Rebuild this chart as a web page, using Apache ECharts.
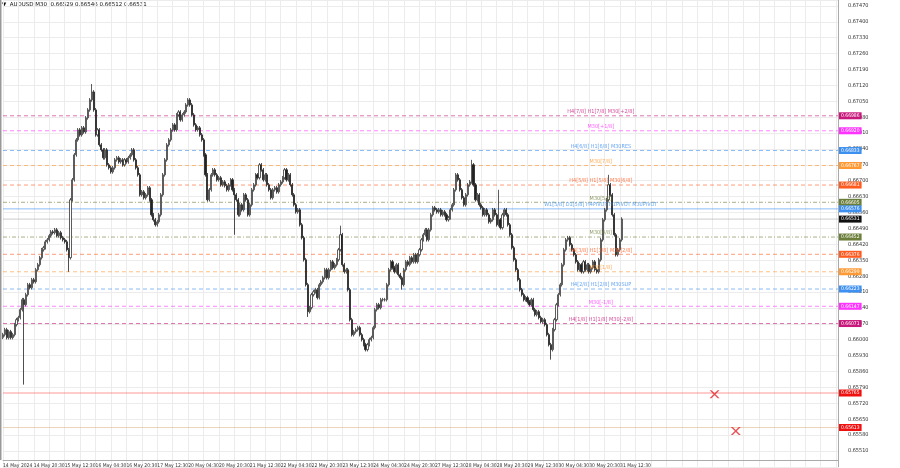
<!DOCTYPE html>
<html><head><meta charset="utf-8">
<script src="https://cdn.jsdelivr.net/npm/echarts@6/dist/echarts.min.js"></script>
<style>html,body{margin:0;padding:0;background:#fff}#c{width:900px;height:468px}</style>
</head><body><div id="c"></div>
<script>
// closes in points (1 point = 0.00001)
const closes = [66022,66044,66009,66035,66009,66022,66066,66088,66097,66132,66176,66154,66198,66242,66229,66264,66255,66308,66330,66361,
66396,66405,66431,66440,66458,66475,66471,66484,66458,66471,66449,66440,66431,66396,66361,66616,66704,66814,66880,66924,
66902,66933,66915,66977,67012,67056,67091,67012,66902,66924,66858,66836,66801,66836,66770,66757,66739,66757,66792,66801,
66783,66792,66770,66792,66783,66801,66814,66836,66792,66757,66726,66638,66651,66625,66638,66669,66616,66550,66528,66506,
66519,66550,66638,66726,66792,66858,66880,66924,66946,66924,66990,67003,66968,66990,67003,67034,67056,67034,66990,66946,
66924,66933,66902,66880,66814,66726,66616,66660,66726,66748,66726,66704,66713,66682,66695,66678,66660,66682,66704,66660,
66638,66616,66550,66594,66572,66638,66616,66550,66594,66660,66682,66726,66713,66770,66748,66704,66726,66682,66660,66625,
66660,66669,66651,66682,66695,66713,66748,66704,66726,66682,66638,66594,66563,66572,66506,66449,66352,66242,66123,66141,
66198,66211,66220,66185,66242,66255,66273,66308,66273,66308,66343,66317,66330,66352,66396,66462,66330,66299,66308,66220,
66088,66022,66035,66044,66053,66022,66000,65978,65956,65978,66000,66009,66053,66132,66154,66141,66176,66176,66176,66242,
66308,66343,66317,66299,66330,66286,66273,66242,66308,66343,66330,66361,66343,66374,66343,66374,66396,66440,66462,66484,
66440,66484,66550,66581,66572,66563,66572,66550,66563,66550,66528,66537,66572,66594,66660,66726,66704,66660,66625,66594,
66638,66682,66695,66770,66682,66616,66638,66594,66581,66550,66572,66550,66519,66528,66572,66550,66506,66528,66493,66550,
66572,66550,66506,66462,66405,66352,66308,66264,66220,66198,66176,66185,66167,66154,66176,66132,66110,66123,66097,66079,
66088,66066,66022,65978,65956,66044,66088,66154,66198,66242,66330,66396,66440,66449,66418,66396,66374,66343,66308,66330,
66299,66343,66308,66330,66299,66317,66343,66308,66299,66352,66440,66528,66572,66616,66682,66638,66550,66462,66374,66396,
66440,66531];
const firstOpen = 66010;
const wickSpikes = {11:{low:65802},34:{low:66299},46:{high:67126},120:{low:66462},175:{high:66502},207:{low:66220},
  243:{high:66792},257:{high:66660},284:{low:65912},314:{high:66726},158:{low:66100}};
const tickLabels = ['14 May 2024','14 May 20:30','15 May 12:30','16 May 04:30','16 May 20:30','17 May 12:30','20 May 04:30',
 '20 May 20:30','21 May 12:30','22 May 04:30','22 May 20:30','23 May 12:30','24 May 04:30','24 May 20:30','27 May 12:30',
 '28 May 04:30','28 May 20:30','29 May 12:30','30 May 04:30','30 May 20:30','31 May 12:30'];
const levels = [
 {p:0.66986,c:'#c8187c',t:'H4[7/8] H1[7/8] M30[+2/8]',d:[4,3]},
 {p:0.66920,c:'#ff33ff',t:'M30[+1/8]',d:[4,3]},
 {p:0.66833,c:'#3d8ff0',t:'H4[6/8] H1[6/8] M30RES',d:[4,3]},
 {p:0.66767,c:'#ff9933',t:'M30[7/8]',d:[4,3]},
 {p:0.66681,c:'#ff5a1f',t:'H4[5/8] H1[5/8] M30[6/8]',d:[4,3]},
 {p:0.66605,c:'#6b7f3a',t:'M30[5/8]',d:[4,2,1,2]},
 {p:0.66576,c:'#3d8ff0',t:'W1[5/8] D1[5/8] H4PIVOT H1PIVOT M30PIVOT',d:'solid'},
 {p:0.66452,c:'#6b7f3a',t:'M30[4/8]',d:[4,2,1,2]},
 {p:0.66376,c:'#ff5a1f',t:'H4[3/8] H1[3/8] M30[2/8]',d:[4,3]},
 {p:0.66299,c:'#ff9933',t:'M30[1/8]',d:[4,3]},
 {p:0.66223,c:'#3d8ff0',t:'H4[2/8] H1[2/8] M30SUP',d:[4,3]},
 {p:0.66147,c:'#ff33ff',t:'M30[-1/8]',d:[4,3]},
 {p:0.66071,c:'#c8187c',t:'H4[1/8] H1[1/8] M30[-2/8]',d:[4,3]},
 {p:0.65765,c:'#ff5050',t:'',d:'solid',bg:'#f01010'},
 {p:0.65613,c:'#e0b58a',t:'',d:'solid',bg:'#f01010'},
 {p:0.66531,c:'#aaaaaa',t:'',d:'solid',bg:'#111111'}
];
const crosses = [[369,0.65760],[380,0.65598]];
const totalBars = 434;

const ohlc = closes.map((c,i)=>{
  const o = i===0?firstOpen:closes[i-1];
  let h=Math.max(o,c)+8, l=Math.min(o,c)-8;
  const s=wickSpikes[i]; if(s){ if(s.high) h=s.high; if(s.low) l=s.low; }
  return [o/1e5,c/1e5,l/1e5,h/1e5];
});
const cats = Array.from({length:totalBars},(_,i)=>String(i));
const lbl = {fontFamily:'DejaVu Sans Condensed, DejaVu Sans',fontSize:5};
const levelSeries = levels.map(L=>({type:'line',data:[[0,L.p],[totalBars-1,L.p]],symbol:'none',silent:true,z:1,
  lineStyle:{color:L.c,type:L.d,width:1,opacity:0.6},
  endLabel:{show:true,distance:1,formatter:L.p.toFixed(5),color:'#fff',backgroundColor:L.bg||L.c,padding:[1,2],...lbl}}));
const chart = echarts.init(document.getElementById('c'));
chart.setOption({
  animation:false,
  grid:{left:0,right:62,top:0,bottom:1.2},
  xAxis:{type:'category',data:cats,boundaryGap:false,offset:-7,
    axisLine:{lineStyle:{color:'#aaa'}},axisTick:{show:false},
    axisLabel:{interval:15,align:'left',margin:3,color:'#333',showMinLabel:true,hideOverlap:false,...lbl,formatter:(v)=>tickLabels[+v/16]||''},
    splitLine:{show:true,interval:7,lineStyle:{color:'#ececec',width:1}}},
  yAxis:{type:'value',position:'right',min:0.6544,max:0.67496,interval:0.0007,
    axisLine:{show:true,lineStyle:{color:'#aaa'}},axisTick:{show:false},
    axisLabel:{showMinLabel:false,showMaxLabel:false,margin:10,color:'#333',...lbl,fontSize:5.5,formatter:v=>v.toFixed(5)},
    splitLine:{lineStyle:{color:'#ececec'}}},
  series:[
    ...levelSeries,
    {type:'candlestick',data:ohlc,barWidth:1.6,z:3,
     itemStyle:{color:'#fff',color0:'#222',borderColor:'#333',borderColor0:'#222',borderWidth:0.8}},
    {type:'scatter',symbolSize:0,z:4,data:levels.filter(L=>L.t).map(L=>({value:[310,L.p],
      label:{show:true,position:'top',distance:1,formatter:L.t,color:L.c,...lbl,fontSize:5.5}}))},
    {type:'scatter',data:crosses,symbol:'path://M0,0L2,0L5,3L8,0L10,0L6,4L10,8L8,8L5,5L2,8L0,8L4,4Z',
     symbolSize:[10,8],itemStyle:{color:'#e0282e'}}
  ],
  graphic:[
    {type:'text',left:2,top:2,style:{text:'▼  AUDUSD,M30  0.66529 0.66546 0.66512 0.66531',fill:'#111',font:'5.5px DejaVu Sans'}},
    {type:'rect',left:0,top:0,shape:{width:1.5,height:460},style:{fill:'#999'}}
  ]
});
</script></body></html>
